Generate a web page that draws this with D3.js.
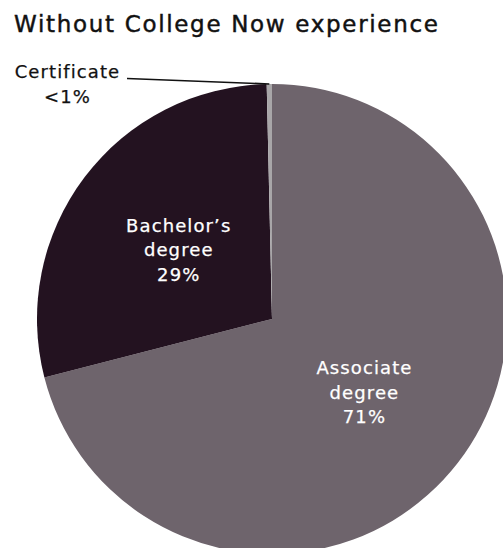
<!DOCTYPE html>
<html>
<head>
<meta charset="utf-8">
<script src="https://cdn.jsdelivr.net/npm/d3@7"></script>
<style>
  html, body { margin: 0; padding: 0; background: #fff; }
  svg { display: block; }
</style>
</head>
<body>
<svg id="chart" width="503" height="548"></svg>
<script>
const title = "Without College Now experience";
const categories = ["Associate degree", "Bachelor's degree", "Certificate"];
const labelLines = [["Associate", "degree", "71%"], ["Bachelor\u2019s", "degree", "29%"], ["Certificate", "<1%"]];
const values = [71.0, 28.64, 0.36];
const colors = ["#6e646c", "#231220", "#a8a6a8"];

const svg = d3.select("#chart");
const W = 503, H = 548;
const cx = 272, cy = 319, R = 235;
const FONT = "'DejaVu Sans', sans-serif";

function fitWidth(sel, target) {
  sel.each(function () {
    const len = this.getComputedTextLength();
    const n = this.textContent.length;
    if (n > 1) d3.select(this).attr("letter-spacing", ((target - len) / (n - 1)).toFixed(2));
  });
}

// title
svg.append("text")
  .attr("x", 14).attr("y", 32)
  .attr("font-family", FONT).attr("font-size", 23)
  .attr("fill", "#111").attr("stroke", "#111").attr("stroke-width", 0.45)
  .text(title)
  .call(fitWidth, 424);

const data = categories.map((c, i) => ({ cat: c, value: values[i], color: colors[i], lines: labelLines[i] }));
const pie = d3.pie().sort(null).value(d => d.value).startAngle(0).endAngle(2 * Math.PI);
const arcs = pie(data);
const arc = d3.arc().innerRadius(0).outerRadius(R);
const labelArc = d3.arc().innerRadius(117).outerRadius(117);
const edgeArc = d3.arc().innerRadius(R).outerRadius(R);

const g = svg.append("g").attr("transform", `translate(${cx},${cy})`);
g.selectAll("path.slice").data(arcs).join("path")
  .attr("class", "slice")
  .attr("d", arc)
  .attr("fill", d => d.data.color);

// inner labels for large slices
const lineH = 24.5;
const LS = 1.1;
arcs.slice(0, 2).forEach(a => {
  const [lx, ly] = labelArc.centroid(a);
  const t = g.append("text")
    .attr("font-family", FONT).attr("font-size", 18)
    .attr("letter-spacing", LS)
    .attr("fill", "#fff").attr("stroke", "#fff").attr("stroke-width", 0.25)
    .attr("text-anchor", "middle");
  const n = a.data.lines.length;
  a.data.lines.forEach((ln, i) => {
    t.append("tspan").attr("x", lx)
      .attr("y", ly + (i - (n - 1) / 2) * lineH + 8)
      .text(ln);
  });
});

// certificate callout
const cert = arcs[2];
const [ex, ey] = edgeArc.centroid(cert);
svg.append("line")
  .attr("x1", 127).attr("y1", 78.5)
  .attr("x2", cx + ex).attr("y2", cy + ey)
  .attr("stroke", "#111").attr("stroke-width", 1.6);
const ct = svg.append("text")
  .attr("font-family", FONT).attr("font-size", 18)
  .attr("letter-spacing", LS)
  .attr("fill", "#111").attr("stroke", "#111").attr("stroke-width", 0.25)
  .attr("text-anchor", "middle");
cert.data.lines.forEach((ln, i) => {
  ct.append("tspan").attr("x", 67.5).attr("y", 78 + i * 25.3).text(ln);
});
</script>
</body>
</html>
